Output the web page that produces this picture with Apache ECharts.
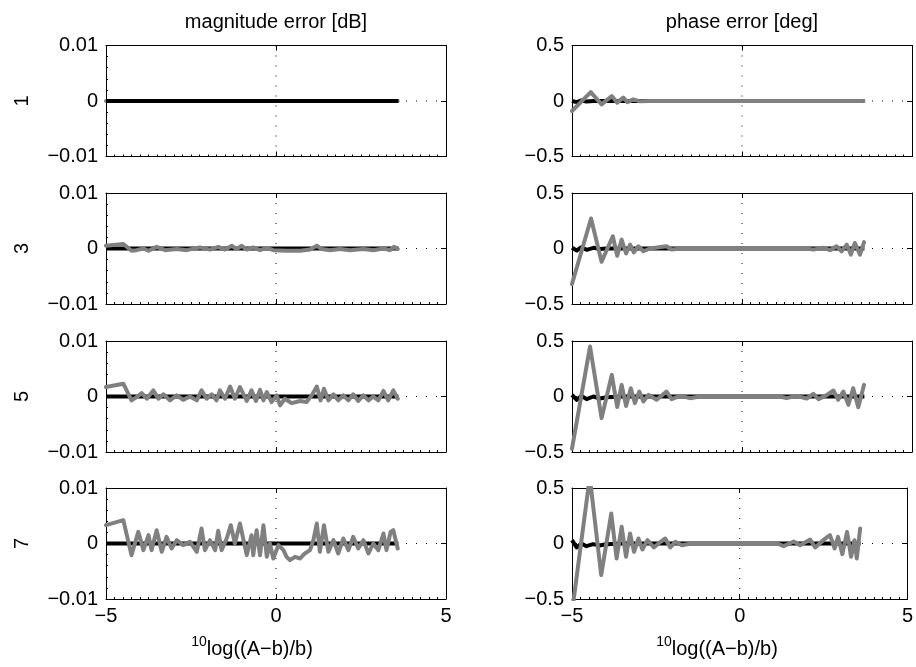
<!DOCTYPE html>
<html>
<head>
<meta charset="utf-8">
<script src="https://cdn.jsdelivr.net/npm/echarts@6/dist/echarts.min.js"></script>
<style>html,body{margin:0;padding:0;background:#fff}#c{width:916px;height:667px}</style>
</head>
<body>
<div id="c"></div>
<script>
// ---------- data ----------
const rowNames = ['1', '3', '5', '7'];
const colTitles = ['magnitude error [dB]', 'phase error [deg]'];
const xTicks = [-5, 0, 5];
const magTicks = [-0.01, 0, 0.01];
const phsTicks = [-0.5, 0, 0.5];

// reference (black) curves
const refMagX = [-5, 3.6];
const refMagY = [0, 0];
const refPhsX = [-5.0, -4.86, -4.72, -4.57, -4.37, -4.18, -3.98, -3.5, 3.6];
const refPhs1Y = [0.0, -0.01, 0.005, -0.005, 0.0, 0.0, 0.0, 0.0, 0.0];
const refPhs3Y = [0.006, -0.018, 0.012, -0.012, 0.006, -0.005, 0.0, 0.0, 0.0];
const refPhs5Y = [0.015, -0.03, 0.006, -0.024, 0.0, -0.018, -0.006, 0.0, 0.0];
const refPhs7Y = [0.03, -0.036, 0.0, -0.024, -0.006, -0.018, -0.006, 0.0, 0.0];

// magnitude error (grey) curves
const mag1X = [-5, 3.58];
const mag1Y = [0, 0];
const mag3X = [-5, -4.49, -4.25, -4.10, -3.90, -3.75, -3.51, -3.26, -2.92, -2.63, -2.24, -1.94, -1.70, -1.50, -1.30, -1.16, -1.01, -0.86, -0.67, -0.47, -0.27, -0.08, 0.31, 0.71, 1.00, 1.20, 1.34, 1.59, 1.88, 2.18, 2.57, 2.86, 3.16, 3.35, 3.47, 3.58];
const mag3Y = [0.0005, 0.0008, -0.0004, -0.0003, 0, -0.0004, 0.0003, -0.0003, -0.0001, -0.0003, 0.0002, -0.0002, 0.0003, -0.0002, 0.0005, -0.0001, 0.0005, -0.0002, 0.0002, -0.0003, 0.0001, -0.0003, -0.0004, -0.0004, -0.0002, 0.0005, -0.0001, -0.0003, -0.0001, -0.0003, -0.0001, -0.0003, 0, -0.0003, 0.0003, -0.0001];
const mag5X = [-5, -4.49, -4.25, -4.10, -3.95, -3.80, -3.61, -3.46, -3.31, -3.12, -2.92, -2.73, -2.53, -2.33, -2.19, -2.04, -1.89, -1.75, -1.65, -1.50, -1.35, -1.21, -1.06, -0.86, -0.72, -0.59, -0.47, -0.37, -0.27, -0.13, 0.02, 0.12, 0.26, 0.46, 0.71, 0.90, 1.05, 1.20, 1.31, 1.41, 1.54, 1.69, 1.83, 1.98, 2.13, 2.27, 2.42, 2.57, 2.72, 2.86, 3.01, 3.16, 3.30, 3.45, 3.58];
const mag5Y = [0.0017, 0.0023, -0.0007, -0.0001, 0.0006, -0.0004, 0.0011, -0.0004, 0.0004, -0.0007, 0.0002, -0.0006, 0.0, -0.0007, 0.0011, -0.0004, 0.0004, -0.0007, 0.0011, -0.0004, 0.0018, -0.0004, 0.0017, -0.0008, 0.0011, -0.0008, 0.0012, -0.0007, 0.0008, -0.001, 0.0002, -0.0016, -0.0004, -0.0012, -0.0008, -0.001, 0.0002, 0.0018, -0.0007, 0.0014, -0.0007, 0.0004, -0.0007, 0.0002, -0.0007, 0.0004, -0.0008, 0.0002, -0.0007, 0.0, -0.0007, 0.001, -0.0007, 0.0011, -0.0004];
const mag7X = [-5, -4.49, -4.25, -4.05, -3.90, -3.75, -3.66, -3.51, -3.36, -3.22, -3.07, -2.92, -2.73, -2.53, -2.33, -2.19, -2.09, -1.94, -1.79, -1.70, -1.60, -1.45, -1.33, -1.21, -1.06, -0.86, -0.72, -0.67, -0.57, -0.47, -0.37, -0.27, -0.18, -0.08, 0.07, 0.22, 0.31, 0.41, 0.56, 0.71, 0.85, 1.00, 1.10, 1.20, 1.29, 1.41, 1.54, 1.69, 1.83, 1.98, 2.13, 2.27, 2.42, 2.57, 2.72, 2.86, 3.01, 3.16, 3.25, 3.37, 3.45, 3.58];
const mag7Y = [0.0033, 0.0042, -0.0021, 0.0021, -0.0012, 0.0015, -0.0012, 0.0024, -0.0015, 0.0012, -0.0009, 0.0006, -0.0003, 0.0003, -0.0015, 0.0027, -0.0012, 0.0006, -0.0012, 0.0023, -0.0012, 0.0009, 0.0033, 0.0, 0.0036, -0.0021, 0.0015, -0.0021, 0.0024, -0.0021, 0.0033, -0.0024, 0.0, -0.0027, -0.0003, -0.0012, -0.0024, -0.003, -0.0024, -0.0027, -0.0018, -0.0012, 0.0006, 0.0036, -0.0015, 0.0033, -0.0015, 0.0006, -0.0018, 0.0009, -0.0012, 0.0012, -0.0009, 0.0006, -0.0018, 0.0, -0.0012, 0.0018, -0.0012, 0.0021, 0.0024, -0.0009];

// phase error (grey) curves
const phs1X = [-5.00, -4.45, -4.13, -3.83, -3.67, -3.49, -3.37, -3.20, -3.00, -2.71, 3.57];
const phs1Y = [-0.09, 0.08, -0.03, 0.045, -0.015, 0.03, -0.01, 0.015, -0.003, 0, 0];
const phs3X = [-5.00, -4.44, -4.13, -3.80, -3.67, -3.54, -3.41, -3.29, -3.18, -3.05, -2.90, -2.71, -2.22, -2.07, -1.82, 1.90, 2.10, 2.39, 2.59, 2.78, 2.93, 3.08, 3.20, 3.32, 3.47, 3.59];
const phs3Y = [-0.32, 0.27, -0.12, 0.11, -0.065, 0.08, -0.045, 0.035, -0.035, 0.02, -0.025, 0, 0.02, -0.01, 0, 0, -0.01, 0.006, -0.015, 0.02, -0.025, 0.035, -0.055, 0.05, -0.055, 0.057];
const phs5X = [-5.00, -4.47, -4.13, -3.83, -3.67, -3.54, -3.41, -3.27, -3.15, -3.02, -2.90, -2.75, -2.51, -2.22, -2.07, -1.82, -1.53, -1.24, 1.12, 1.31, 1.61, 1.90, 2.10, 2.25, 2.49, 2.69, 2.83, 2.98, 3.13, 3.27, 3.42, 3.59];
const phs5Y = [-0.47, 0.45, -0.195, 0.195, -0.095, 0.105, -0.085, 0.075, -0.06, 0.045, -0.045, 0.015, -0.03, 0.045, -0.024, 0.006, -0.015, 0, 0, -0.015, 0.006, -0.018, 0.024, -0.024, 0.012, 0.054, -0.03, 0.045, -0.075, 0.075, -0.096, 0.105];
const phs7X = [-5.00, -4.47, -4.13, -3.83, -3.67, -3.52, -3.39, -3.27, -3.15, -3.02, -2.90, -2.75, -2.56, -2.36, -2.22, -2.07, -1.92, -1.73, -1.43, 1.12, 1.31, 1.61, 1.80, 2.10, 2.25, 2.49, 2.69, 2.83, 2.93, 3.06, 3.20, 3.32, 3.42, 3.49, 3.59];
const phs7Y = [-0.62, 0.6, -0.285, 0.27, -0.135, 0.15, -0.12, 0.09, -0.075, 0.045, -0.054, 0.03, -0.036, 0.015, 0.045, -0.036, 0.015, -0.015, 0, 0, -0.024, 0.018, -0.015, 0.036, -0.036, 0.03, 0.075, -0.045, 0.06, -0.096, 0.105, -0.12, 0.03, -0.135, 0.135];

const zeroLineX = [-5, 5];
const zeroLineY = [0, 0];

// ---------- layout ----------
const FONT = 'Liberation Sans, Arial, Helvetica, sans-serif';
const TICK_FS = 20;
const colLeft = [106, 572];
const plotW = 340;
const rowTop = [45.5, 193, 341, 488];
const plotH = 111;

const magPanels = [[mag1X, mag1Y], [mag3X, mag3Y], [mag5X, mag5Y], [mag7X, mag7Y]];
const phsPanels = [[phs1X, phs1Y], [phs3X, phs3Y], [phs5X, phs5Y], [phs7X, phs7Y]];
const refPhsRows = [refPhs1Y, refPhs3Y, refPhs5Y, refPhs7Y];

const pairs = (xs, ys) => xs.map((x, i) => [x, ys[i]]);
const fmt = v => (Math.abs(v) < 1e-12 ? '0' : (v < 0 ? '\u2212' : '') + String(+Math.abs(v).toFixed(4)));

const grid = [], xAxis = [], yAxis = [], series = [];
let gi = 0;
for (let r = 0; r < 4; r++) {
  for (let c = 0; c < 2; c++) {
    grid.push({ left: colLeft[c], top: rowTop[r], width: plotW, height: plotH, show: false });
    const ticks = c === 0 ? magTicks : phsTicks;
    const lineCfg = { show: true, onZero: false, lineStyle: { color: '#000', width: 1 } };
    const xBase = {
      type: 'value', gridIndex: gi, min: xTicks[0], max: xTicks[xTicks.length - 1], interval: xTicks[1] - xTicks[0],
      axisLine: lineCfg, splitLine: { show: false },
      axisTick: { show: true, inside: true, length: 5, lineStyle: { color: '#000' } }
    };
    xAxis.push(Object.assign({}, xBase, {
      position: 'bottom',
      minorTick: { show: true, splitNumber: 20, length: 2, lineStyle: { color: '#000' } },
      axisLabel: { show: r === 3, formatter: fmt, color: '#000', fontSize: TICK_FS, fontFamily: FONT, margin: 7 }
    }));
    xAxis.push(Object.assign({}, xBase, { position: 'top', axisLabel: { show: false } }));
    const yBase = {
      type: 'value', gridIndex: gi, min: ticks[0], max: ticks[2], interval: ticks[1] - ticks[0],
      axisLine: lineCfg, splitLine: { show: false },
      axisTick: { show: true, inside: true, length: 5, lineStyle: { color: '#000' } }
    };
    yAxis.push(Object.assign({}, yBase, {
      position: 'left',
      minorTick: { show: c === 0, splitNumber: 5, length: 2, lineStyle: { color: '#000' } },
      axisLabel: { show: true, formatter: fmt, color: '#000', fontSize: TICK_FS, fontFamily: FONT, margin: 8 }
    }));
    yAxis.push(Object.assign({}, yBase, { position: 'right', axisLabel: { show: false } }));

    const xi = gi * 2, yi = gi * 2;
    const base = { type: 'line', xAxisIndex: xi, yAxisIndex: yi, showSymbol: false, symbol: 'none', animation: false, silent: true };
    const ylim = c === 0 ? magTicks : phsTicks;
    // dotted zero lines
    series.push(Object.assign({}, base, { data: pairs(zeroLineX, zeroLineY), lineStyle: { color: '#000', width: 1, type: [1, 9] }, z: 1 }));
    series.push(Object.assign({}, base, { data: [[0, ylim[0]], [0, ylim[2]]], lineStyle: { color: '#000', width: 1, type: [1, 9] }, z: 1 }));
    const grey = c === 0 ? magPanels[r] : phsPanels[r];
    const refX = c === 0 ? refMagX : refPhsX;
    const refY = c === 0 ? refMagY : refPhsRows[r];
    const greyS = Object.assign({}, base, { data: pairs(grey[0], grey[1]), lineStyle: { color: '#808080', width: 4, join: 'round', cap: 'round' } });
    const blackS = Object.assign({}, base, { data: pairs(refX, refY), lineStyle: { color: '#000', width: 4, join: 'round' } });
    if (c === 0 && r === 0) {
      greyS.z = 2; blackS.z = 3;
      series.push(greyS, blackS);
    } else {
      blackS.z = 2; greyS.z = 3;
      series.push(blackS, greyS);
    }
    gi++;
  }
}

const graphic = [];
colTitles.forEach((t, c) => graphic.push({
  type: 'text', x: colLeft[c] + plotW / 2, y: 22,
  style: { text: t, fontSize: 20, fontFamily: FONT, fill: '#000', textAlign: 'center', textVerticalAlign: 'middle' }
}));
rowNames.forEach((t, r) => graphic.push({
  type: 'text', x: 22, y: rowTop[r] + plotH / 2, rotation: Math.PI / 2,
  style: { text: t, fontSize: TICK_FS, fontFamily: FONT, fill: '#000', textAlign: 'center', textVerticalAlign: 'middle' }
}));
[252, 717].forEach(cx => graphic.push({
  type: 'text', x: cx, y: 647,
  style: {
    text: '{s|10}{m|log((A\u2212b)/b)}',
    textAlign: 'center', textVerticalAlign: 'middle',
    rich: {
      s: { fontSize: 14, fontFamily: FONT, fill: '#000', verticalAlign: 'top', lineHeight: 24 },
      m: { fontSize: 20, fontFamily: FONT, fill: '#000', verticalAlign: 'bottom', lineHeight: 24 }
    }
  }
}));

const chart = echarts.init(document.getElementById('c'), null, { renderer: 'canvas' });
chart.setOption({ animation: false, backgroundColor: '#fff', grid, xAxis, yAxis, series, graphic });
</script>
</body>
</html>
